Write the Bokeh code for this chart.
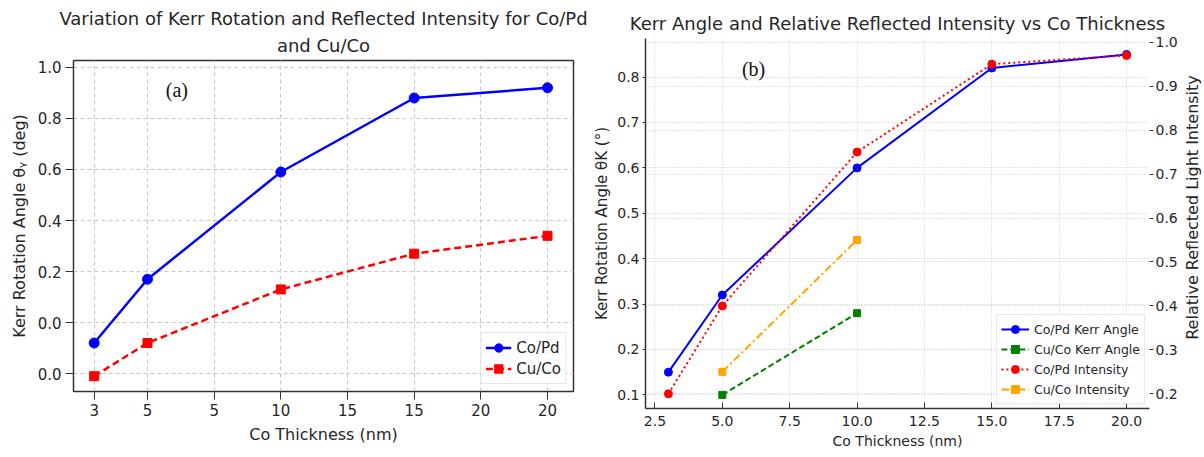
import math
from bokeh.plotting import figure
from bokeh.layouts import row
from bokeh.models import FixedTicker, Range1d, LinearAxis, Grid, Label, PrintfTickFormatter, Title
from bokeh.embed import file_html
from bokeh.resources import INLINE

# ---------------- Panel (a) data ----------------
thick_a = [3, 5, 10, 15, 20]
copd_a = [-0.08, 0.17, 0.59, 0.88, 0.92]
cuco_a = [-0.21, -0.08, 0.13, 0.27, 0.34]
xticks_a = [3, 5, 7.5, 10, 12.5, 15, 17.5, 20]
xlabels_a = ["3", "5", "5", "10", "15", "15", "20", "20"]
yticks_a = [-0.2, 0.0, 0.2, 0.4, 0.6, 0.8, 1.0]
ylabels_a = ["0.0", "0.0", "0.2", "0.4", "0.6", "0.8", "1.0"]

# ---------------- Panel (b) data ----------------
thick_b = [3, 5, 10, 15, 20]
copd_kerr = [0.15, 0.32, 0.60, 0.82, 0.85]
cuco_thick = [5, 10]
cuco_kerr = [0.10, 0.28]
copd_int = [0.20, 0.40, 0.75, 0.95, 0.97]
cuco_int = [0.25, 0.55]
xticks_b = [2.5, 5.0, 7.5, 10.0, 12.5, 15.0, 17.5, 20.0]
yticks_b_left = [0.1, 0.2, 0.3, 0.4, 0.5, 0.6, 0.7, 0.8]
yticks_b_right = [0.2, 0.3, 0.4, 0.5, 0.6, 0.7, 0.8, 0.9, 1.0]

FONT = "DejaVu Sans"
TXT = "#262626"

def style_axis(ax, tick_size="14px", label_size="14px"):
    ax.axis_label_text_font = FONT
    ax.axis_label_text_font_style = "normal"
    ax.axis_label_text_font_size = label_size
    ax.axis_label_text_color = TXT
    ax.major_label_text_font = FONT
    ax.major_label_text_font_size = tick_size
    ax.major_label_text_color = TXT
    ax.minor_tick_line_color = None
    ax.axis_line_color = "#333333"
    ax.major_tick_line_color = "#333333"

# ---------------- Figure (a) ----------------
pa = figure(width=590, height=457, x_range=Range1d(2.225, 20.975), y_range=Range1d(-0.27, 1.027),
            output_backend="svg", toolbar_location=None,
            min_border_left=73, min_border_right=17, min_border_top=60, min_border_bottom=66)
pa.frame_align = False
pa.title.text = "Variation of Kerr Rotation and Reflected Intensity for Co/Pd"
pa.title.align = "center"
pa.title.text_font = FONT
pa.title.text_font_style = "normal"
pa.title.text_font_size = "18px"
pa.title.text_color = TXT
pa.title.standoff = 0
pa.add_layout(Title(text="and Cu/Co", align="center",
                    text_font=FONT, text_font_style="normal", text_font_size="18px",
                    text_color=TXT, standoff=9), "above")

pa.outline_line_color = "#333333"
pa.outline_line_width = 1.5
pa.xaxis.axis_label = "Co Thickness (nm)"
pa.yaxis.axis_label = "Kerr Rotation Angle θᵧ (deg)"
for ax in (pa.xaxis[0], pa.yaxis[0]):
    style_axis(ax, "15px", "16px")
    ax.major_tick_out = 8
    ax.major_tick_in = 0
    ax.major_label_standoff = 4
    ax.axis_label_standoff = 6
pa.xaxis.ticker = FixedTicker(ticks=xticks_a)
pa.xaxis.major_label_overrides = dict(zip(xticks_a, xlabels_a))
pa.yaxis.ticker = FixedTicker(ticks=yticks_a)
pa.yaxis.major_label_overrides = dict(zip(yticks_a, ylabels_a))

pa.grid.grid_line_color = "#c8c8c8"
pa.grid.grid_line_dash = "4 3"
pa.grid.grid_line_width = 1

pa.line(thick_a, copd_a, line_color="blue", line_width=2.5, legend_label="Co/Pd")
pa.scatter(thick_a, copd_a, marker="circle", size=10, color="blue", legend_label="Co/Pd")
pa.line(thick_a, cuco_a, line_color="red", line_width=2.5, line_dash="7 4", legend_label="Cu/Co")
pa.scatter(thick_a, cuco_a, marker="square", size=9, color="red", legend_label="Cu/Co")

pa.add_layout(Label(x=6.1, y=0.91, text="(a)", text_font="Liberation Serif", text_font_size="20px",
                    text_align="center", text_baseline="middle", text_color="#111111"))

lg = pa.legend[0]
lg.location = "bottom_right"
lg.margin = 7
lg.padding = 4
lg.spacing = 0
lg.label_text_font = FONT
lg.label_text_font_size = "15px"
lg.label_text_color = TXT
lg.glyph_width = 26
lg.glyph_height = 21
lg.label_height = 21
lg.border_line_color = "#d0d0d0"
lg.background_fill_alpha = 0.85

# ---------------- Figure (b) ----------------
pb = figure(width=590, height=457, x_range=Range1d(2.15, 20.85), y_range=Range1d(0.070, 0.885),
            output_backend="svg", toolbar_location=None,
            min_border_left=53, min_border_right=28, min_border_top=38, min_border_bottom=49)
pb.frame_align = False
pb.extra_y_ranges = {"right": Range1d(0.1666, 1.0084)}
pb.title.text = "Kerr Angle and Relative Reflected Intensity vs Co Thickness"
pb.title.align = "center"
pb.title.text_font = FONT
pb.title.text_font_style = "normal"
pb.title.text_font_size = "18px"
pb.title.text_color = TXT
pb.title.standoff = 9
pb.outline_line_color = None

pb.xaxis.axis_label = "Co Thickness (nm)"
pb.yaxis.axis_label = "Kerr Rotation Angle θK (°)"
rax = LinearAxis(y_range_name="right")
pb.add_layout(rax, "right")
style_axis(pb.xaxis[0], "14px", "14px")
style_axis(pb.yaxis[0], "14px", "15px")
style_axis(rax, "14px", "15px")
pb.xaxis.major_label_standoff = 7
pb.xaxis.axis_label_standoff = 4
pb.yaxis.major_label_standoff = 3
pb.yaxis.axis_label_standoff = 3
rax.major_label_standoff = 2
pb.xaxis.major_tick_in = 6
pb.xaxis.major_tick_out = 0
pb.yaxis.major_tick_in = 0
pb.yaxis.major_tick_out = 3
rax.major_tick_in = 0
rax.major_tick_out = 4
rax.axis_line_color = None
pb.xaxis.axis_line_width = 1.5
pb.yaxis.axis_line_width = 1.5

pb.xaxis.ticker = FixedTicker(ticks=xticks_b)
pb.xaxis.formatter = PrintfTickFormatter(format="%.1f")
pb.yaxis.ticker = FixedTicker(ticks=yticks_b_left)
pb.yaxis.formatter = PrintfTickFormatter(format="%.1f")
rax.ticker = FixedTicker(ticks=yticks_b_right)
rax.formatter = PrintfTickFormatter(format="%.1f")

pb.grid.grid_line_color = "#cfcfcf"
pb.grid.grid_line_dash = "1 2"
pb.grid.grid_line_width = 1
rgrid = Grid(dimension=1, ticker=rax.ticker, y_range_name="right",
             grid_line_color="#cfcfcf", grid_line_dash="1 2", grid_line_width=1)
pb.add_layout(rgrid)

pb.line(thick_b, copd_kerr, line_color="blue", line_width=2, legend_label="Co/Pd Kerr Angle")
pb.scatter(thick_b, copd_kerr, marker="circle", size=8, color="blue", legend_label="Co/Pd Kerr Angle")
pb.line(cuco_thick, cuco_kerr, line_color="green", line_width=2, line_dash="6 3", legend_label="Cu/Co Kerr Angle")
pb.scatter(cuco_thick, cuco_kerr, marker="square", size=7, color="green", legend_label="Cu/Co Kerr Angle")
pb.line(thick_b, copd_int, line_color="red", line_width=2, line_dash="2 3", y_range_name="right",
        legend_label="Co/Pd Intensity")
pb.scatter(thick_b, copd_int, marker="circle", size=8, color="red", y_range_name="right",
           legend_label="Co/Pd Intensity")
pb.line(cuco_thick, cuco_int, line_color="orange", line_width=2, line_dash="8 3 2 3", y_range_name="right",
        legend_label="Cu/Co Intensity")
pb.scatter(cuco_thick, cuco_int, marker="square", size=7, color="orange", y_range_name="right",
           legend_label="Cu/Co Intensity")

pb.add_layout(Label(x=6.16, y=0.818, text="(b)", text_font="Liberation Serif", text_font_size="20px",
                    text_align="center", text_baseline="middle", text_color="#111111"))

lb = pb.legend[0]
lb.location = "bottom_right"
lb.margin = 4
lb.padding = 4
lb.spacing = 0
lb.label_text_font = FONT
lb.label_text_font_size = "12.5px"
lb.label_text_color = TXT
lb.glyph_width = 28
lb.glyph_height = 20
lb.label_height = 20
lb.border_line_color = "#d0d0d0"
lb.background_fill_alpha = 0.85

# ---------------- strip holding the right-axis title (reads bottom-to-top) ----------------
pr = figure(width=24, height=457, x_range=Range1d(0, 1), y_range=Range1d(0, 1),
            output_backend="svg", toolbar_location=None, x_axis_type=None, y_axis_type=None,
            min_border=0)
pr.frame_align = False
pr.outline_line_color = None
pr.grid.visible = False
pr.add_layout(Label(x=0.5, y=1 - 207 / 457, text="Relative Reflected Light Intensity",
                    angle=math.pi / 2, text_font=FONT, text_font_size="16px", text_color=TXT,
                    text_align="center", text_baseline="middle"))

layout = row(pa, pb, pr)
open("out.html", "w").write(file_html(layout, INLINE))
